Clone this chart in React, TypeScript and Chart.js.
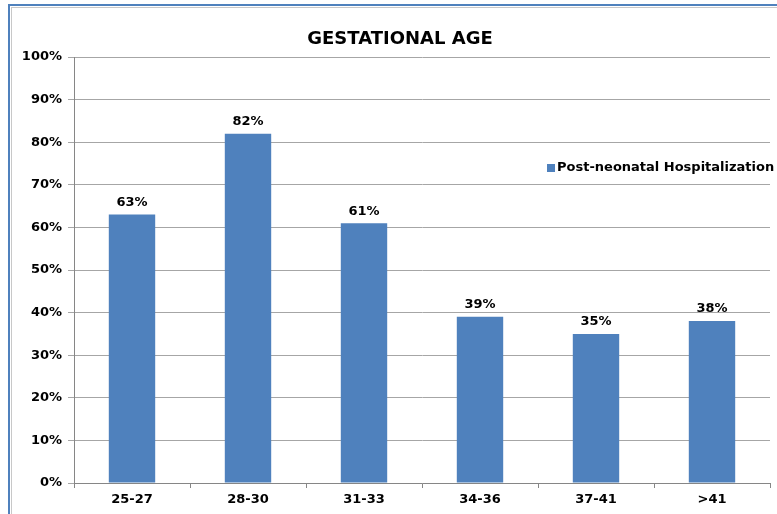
import React, { useEffect, useRef } from "react";
import { Chart, registerables } from "chart.js";

Chart.register(...registerables);

const categories = ["25-27", "28-30", "31-33", "34-36", "37-41", ">41"];
const values = [63, 82, 61, 39, 35, 38];
const seriesName = "Post-neonatal Hospitalization";
const titleText = "GESTATIONAL AGE";

const BAR = "#4f81bd";
const FONT = "'DejaVu Sans', 'Liberation Sans', Arial, sans-serif";

const decor = {
  id: "decor",
  beforeDraw(chart: any) {
    const ctx = chart.ctx;
    ctx.save();
    ctx.fillStyle = "#fff";
    ctx.fillRect(0, 0, chart.width, chart.height);
    // outer blue frame
    ctx.fillStyle = "#4f81bd";
    ctx.fillRect(8, 4, chart.width - 8, 2);
    ctx.fillRect(8, 4, 2, chart.height - 4);
    // inner gray frame
    ctx.fillStyle = "#c8c8c8";
    ctx.fillRect(11, 7, chart.width - 11, 1);
    ctx.fillRect(11, 7, 1, chart.height - 7);
    ctx.restore();
  },
  afterDraw(chart: any) {
    const ctx = chart.ctx;
    ctx.save();
    // title
    ctx.fillStyle = "#000";
    ctx.font = `bold 18px ${FONT}`;
    ctx.textAlign = "center";
    ctx.textBaseline = "middle";
    ctx.fillText(titleText, 400, 39);
    // data labels
    ctx.font = `bold 13px ${FONT}`;
    const meta = chart.getDatasetMeta(0);
    meta.data.forEach((bar: any, i: number) => {
      ctx.fillText(values[i] + "%", bar.x, bar.y - 12);
    });
    // legend
    ctx.fillStyle = BAR;
    ctx.fillRect(547, 164, 8, 8);
    ctx.fillStyle = "#000";
    ctx.textAlign = "left";
    ctx.font = `bold 13px ${FONT}`;
    ctx.fillText(seriesName, 557, 168);
    ctx.restore();
  },
};

export default function App() {
  const ref = useRef<HTMLCanvasElement | null>(null);
  useEffect(() => {
    if (!ref.current) return;
    const chart = new Chart(ref.current, {
      type: "bar",
      data: {
        labels: categories,
        datasets: [
          {
            label: seriesName,
            data: values,
            backgroundColor: BAR,
            borderWidth: 0,
            categoryPercentage: 1,
            barPercentage: 0.4,
          },
        ],
      },
      options: {
        responsive: false,
        animation: false,
        layout: { padding: { left: 0, top: 57, right: 7, bottom: 0 } },
        plugins: {
          legend: { display: false },
          title: { display: false },
          tooltip: { enabled: false },
        },
        scales: {
          x: {
            afterFit: (s: any) => {
              s.height = 31;
            },
            grid: {
              display: true,
              drawOnChartArea: false,
              drawTicks: true,
              tickLength: 5,
              color: "#868686",
              offset: true,
            },
            border: { display: true, color: "#868686", width: 1 },
            ticks: {
              color: "#000",
              font: { family: FONT, size: 13, weight: "bold" },
              padding: 4,
              maxRotation: 0,
            },
          },
          y: {
            min: 0,
            max: 100,
            afterFit: (s: any) => {
              s.width = 74;
            },
            grid: {
              color: "#a6a6a6",
              tickLength: 6,
              drawTicks: true,
            },
            border: { display: true, color: "#868686", width: 1 },
            ticks: {
              stepSize: 10,
              color: "#000",
              font: { family: FONT, size: 13, weight: "bold" },
              padding: 6,
              callback: (v: any) => v + "%",
            },
          },
        },
      },
      plugins: [decor],
    });
    return () => chart.destroy();
  }, []);
  return (
    <div style={{ position: "absolute", left: 0, top: 0, width: 777, height: 514 }}>
      <canvas ref={ref} width={777} height={514} style={{ display: "block" }} />
    </div>
  );
}
